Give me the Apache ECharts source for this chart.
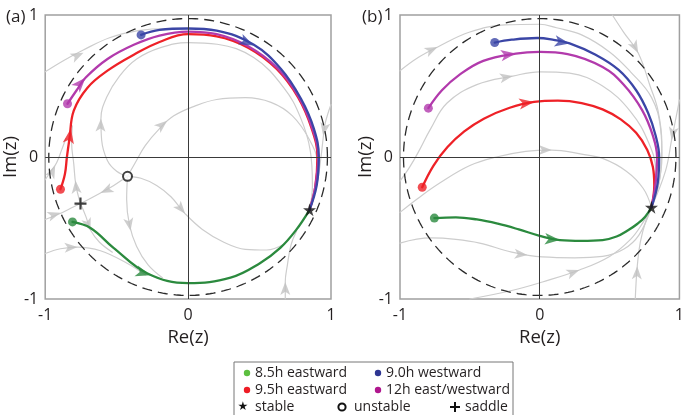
<!DOCTYPE html>
<html><head><meta charset="utf-8">
<script src="https://cdn.jsdelivr.net/npm/echarts@6/dist/echarts.min.js"></script>
<style>html,body{margin:0;padding:0;background:#fff}#c{width:687px;height:415px}</style>
</head><body><div id="c"></div>
<script>
// ---------------- data ----------------
const panelLabels = ['(a)', '(b)'];
const axisName = ['Re(z)', 'Im(z)'];
const circleRadius = 0.975;

// Panel (a) trajectories
const aBlue = [[-0.329,0.86],[-0.2,0.895],[0,0.905],[0.2,0.89],[0.46,0.79],[0.65,0.62],[0.79,0.41],[0.88,0.2],[0.915,0],[0.9,-0.2],[0.85,-0.372]];
const aPurple = [[-0.844,0.375],[-0.78,0.47],[-0.718,0.558],[-0.564,0.69],[-0.38,0.79],[-0.2,0.855],[0,0.883],[0.2,0.865],[0.42,0.78],[0.62,0.63],[0.77,0.43],[0.87,0.2],[0.91,0],[0.89,-0.21],[0.85,-0.372]];
const aRed = [[-0.893,-0.227],[-0.862,-0.12],[-0.848,0],[-0.83,0.13],[-0.8,0.326],[-0.704,0.488],[-0.564,0.608],[-0.38,0.72],[-0.2,0.81],[0,0.865],[0.2,0.85],[0.42,0.77],[0.62,0.62],[0.77,0.42],[0.865,0.2],[0.905,0],[0.89,-0.21],[0.85,-0.372]];
const aGreen = [[-0.809,-0.457],[-0.683,-0.5],[-0.522,-0.64],[-0.284,-0.82],[0,-0.888],[0.297,-0.85],[0.5,-0.75],[0.645,-0.64],[0.755,-0.515],[0.85,-0.372]];
const aGray = [
  [[-1,0.6],[-0.87,0.68],[-0.74,0.75],[-0.55,0.84],[-0.35,0.89],[-0.15,0.905],[0.05,0.905]],
  [[-0.424,-0.136],[-0.5,-0.1],[-0.564,-0.026],[-0.605,0.12],[-0.61,0.27],[-0.57,0.42],[-0.48,0.57],[-0.36,0.69],[-0.193,0.77],[0,0.806],[0.203,0.794],[0.459,0.7],[0.669,0.489],[0.786,0.279],[0.855,0.044],[0.87,-0.2],[0.85,-0.372]],
  [[-0.424,-0.136],[-0.37,-0.04],[-0.3,0.08],[-0.2,0.2],[-0.1,0.29],[0.05,0.36],[0.2,0.405],[0.4,0.418],[0.58,0.385],[0.73,0.29],[0.85,0.12],[0.905,-0.05],[0.89,-0.22],[0.85,-0.372]],
  [[-0.424,-0.136],[-0.33,-0.15],[-0.22,-0.2],[-0.12,-0.28],[-0.02,-0.4],[0.1,-0.51],[0.25,-0.6],[0.4,-0.65],[0.55,-0.655],[0.67,-0.615]],
  [[-0.424,-0.136],[-0.43,-0.3],[-0.41,-0.48],[-0.36,-0.63],[-0.28,-0.76],[-0.18,-0.85]],
  [[-0.424,-0.136],[-0.52,-0.2],[-0.613,-0.253],[-0.753,-0.328]],
  [[-0.753,-0.328],[-0.785,-0.2],[-0.8,-0.05],[-0.815,0.1],[-0.81,0.22]],
  [[-1,-0.16],[-0.96,-0.1],[-0.92,-0.04],[-0.885,0.05],[-0.855,0.13]],
  [[-1,-0.44],[-0.9,-0.4],[-0.8,-0.35],[-0.753,-0.328]],
  [[-0.753,-0.328],[-0.715,-0.42],[-0.68,-0.52],[-0.62,-0.6],[-0.53,-0.67]],
  [[-1,-0.68],[-0.893,-0.646],[-0.774,-0.634],[-0.613,-0.66],[-0.424,-0.75],[-0.3,-0.83]],
  [[0.68,-1],[0.68,-0.88],[0.695,-0.76],[0.72,-0.62],[0.76,-0.52]],
  [[1,0.37],[0.96,0.24],[0.945,0.13],[0.93,0],[0.9,-0.2],[0.85,-0.372]]
];
// arrows: [x, y, direction in degrees]
const aGrayArrows = [[-0.732,0.734,25],[-0.61,0.27,88],[-0.147,0.255,40],[-0.02,-0.4,-50],[-0.403,-0.52,-80],[-0.613,-0.253,205],[-0.788,-0.166,95],[-0.93,-0.06,65],[-0.893,-0.393,18],[-0.683,-0.52,-70],[-0.774,-0.634,3],[0.68,-0.88,90],[0.945,0.15,-100]];
const aBlueArrows = [[0.459,0.785,-25]];
const aPurpleArrows = [[-0.718,0.558,48]];
const aRedArrows = [[-0.82,0.2,80]];
const aGreenArrows = [[-0.263,-0.833,-17]];
const aStable = [[0.85,-0.372]];
const aUnstable = [[-0.424,-0.136]];
const aSaddle = [[-0.753,-0.328]];

// Panel (b) trajectories
const bBlue = [[-0.322,0.806],[-0.2,0.826],[-0.018,0.838],[0.1,0.825],[0.214,0.8],[0.4,0.72],[0.565,0.613],[0.69,0.47],[0.776,0.31],[0.83,0.15],[0.855,0],[0.845,-0.18],[0.8,-0.354]];
const bPurple = [[-0.797,0.344],[-0.7,0.47],[-0.58,0.575],[-0.404,0.677],[-0.171,0.728],[0,0.74],[0.2,0.725],[0.45,0.634],[0.6,0.51],[0.733,0.33],[0.81,0.15],[0.84,0],[0.83,-0.18],[0.8,-0.354]];
const bRed = [[-0.841,-0.213],[-0.76,-0.06],[-0.66,0.07],[-0.54,0.18],[-0.4,0.27],[-0.22,0.345],[-0.04,0.388],[0.13,0.397],[0.3,0.38],[0.45,0.335],[0.58,0.265],[0.69,0.17],[0.77,0.05],[0.81,-0.07],[0.82,-0.2],[0.8,-0.354]];
const bGreen = [[-0.754,-0.43],[-0.6,-0.425],[-0.45,-0.44],[-0.3,-0.47],[-0.15,-0.51],[0,-0.555],[0.144,-0.585],[0.3,-0.59],[0.45,-0.585],[0.55,-0.56],[0.635,-0.514],[0.7,-0.47],[0.755,-0.42],[0.8,-0.354]];
const bGray = [
  [[-1,0.607],[-0.87,0.7],[-0.73,0.775],[-0.5,0.88],[-0.25,0.93],[0,0.935],[0.12,0.91],[0.3,0.86],[0.5,0.74],[0.65,0.6],[0.8,0.42],[0.865,0.2],[0.875,0],[0.85,-0.2],[0.8,-0.354]],
  [[0.52,1],[0.6,0.88],[0.705,0.732],[0.79,0.5],[0.846,0.33],[0.874,0.1],[0.86,-0.15],[0.8,-0.354]],
  [[1,0.4],[0.97,0.25],[0.944,0.12],[0.9,-0.1],[0.8,-0.354]],
  [[-1,-0.17],[-0.93,-0.07],[-0.86,0.05],[-0.78,0.2],[-0.663,0.38],[-0.45,0.51],[-0.193,0.57],[0,0.6],[0.214,0.59],[0.45,0.5],[0.65,0.32],[0.78,0.1],[0.83,-0.1],[0.8,-0.354]],
  [[-1,-0.39],[-0.87,-0.29],[-0.71,-0.18],[-0.5,-0.06],[-0.31,0],[-0.1,0.04],[0.086,0.049],[0.3,0.02],[0.45,-0.01],[0.62,-0.1],[0.74,-0.22],[0.8,-0.354]],
  [[-1,-0.606],[-0.78,-0.57],[-0.6,-0.58],[-0.43,-0.606],[-0.2,-0.67],[0.018,-0.704],[0.25,-0.71],[0.45,-0.7],[0.6,-0.65],[0.71,-0.55],[0.8,-0.354]],
  [[-0.5,-1],[-0.2,-0.94],[0.02,-0.88],[0.284,-0.796],[0.5,-0.7],[0.65,-0.58],[0.74,-0.46],[0.8,-0.354]],
  [[0.684,-1],[0.69,-0.88],[0.698,-0.77],[0.72,-0.6],[0.76,-0.45],[0.8,-0.354]]
];
const bGrayArrows = [[-0.731,0.775,25],[0.705,0.732,-62],[0.944,0.12,-100],[-0.193,0.57,10],[0.086,0.049,0],[-0.088,-0.69,-5],[0.284,-0.796,20],[0.698,-0.77,88]];
const bBlueArrows = [[0.214,0.8,-10]];
const bPurpleArrows = [[-0.171,0.728,8]];
const bRedArrows = [[-0.04,0.388,8]];
const bGreenArrows = [[0.144,-0.585,-5]];
const bStable = [[0.8,-0.354]];

// legend entries
const legendRows = [
  [['8.5h eastward','dotGreen'],['9.0h westward','dotBlue']],
  [['9.5h eastward','dotRed'],['12h east/westward','dotPurple']],
  [['stable','star'],['unstable','ring'],['saddle','plus']]
];

// ---------------- styles ----------------
const C = {
  blue:'#3b46a6', red:'#ee2127', purple:'#b23aac', green:'#2b8a3e', gray:'#cdcdcd',
  lgGreen:'#5cbf3f', lgBlue:'#2e3592', lgRed:'#ee1c25', lgPurple:'#b0168e'
};
const FONT = 'Open Sans';
const STAR = 'path://M50,0 L61,35 L98,35 L68,57 L79,91 L50,70 L21,91 L32,57 L2,35 L39,35 Z';
const PLUS = 'path://M4.1,0H5.9V4.1H10V5.9H5.9V10H4.1V5.9H0V4.1H4.1Z';

function circlePts(r){const p=[];for(let i=0;i<=240;i++){const t=i/240*2*Math.PI;p.push([r*Math.cos(t),r*Math.sin(t)]);}return p;}

function line(data,color,width,g,z){
  return {type:'line',xAxisIndex:g,yAxisIndex:g,data,smooth:0.4,symbol:'none',
    lineStyle:{color,width,cap:'round'},z,silent:true};
}
function arrows(list,color,size,g,z){
  return {type:'scatter',xAxisIndex:g,yAxisIndex:g,symbol:'arrow',symbolSize:size,z,silent:true,
    data:list.map(a=>({value:[a[0],a[1]],symbolRotate:a[2]-90})),itemStyle:{color}};
}
function dots(list,g,color,z){
  return {type:'scatter',xAxisIndex:g,yAxisIndex:g,symbol:'circle',symbolSize:9,z,silent:true,
    data:[list[0]],itemStyle:{color}};
}
function pts(list,g,symbol,size,style,z){
  return {type:'scatter',xAxisIndex:g,yAxisIndex:g,symbol,symbolSize:size,z,silent:true,data:list,itemStyle:style};
}

function panelSeries(g, P){
  const s=[];
  s.push({type:'line',xAxisIndex:g,yAxisIndex:g,data:circlePts(circleRadius),symbol:'none',silent:true,z:2,
    lineStyle:{color:'#2a2a2a',width:1.3,type:[10,6]},
    markLine:{silent:true,symbol:'none',label:{show:false},animation:false,
      lineStyle:{color:'#3a3a3a',width:1,type:'solid'},data:[{xAxis:0},{yAxis:0}]}});
  P.gray.forEach(d=>s.push(line(d,C.gray,1.2,g,1)));
  s.push(arrows(P.grayArrows,'#c2c2c2',[7.5,13],g,1));
  s.push(line(P.green,C.green,2.3,g,3));
  s.push(line(P.red,C.red,2.3,g,3));
  s.push(line(P.purple,C.purple,2.3,g,3));
  s.push(line(P.blue,C.blue,2.3,g,3));
  s.push(arrows(P.greenA,C.green,[8.5,15],g,4));
  s.push(arrows(P.redA,C.red,[8.5,15],g,4));
  s.push(arrows(P.purpleA,C.purple,[8.5,15],g,4));
  s.push(arrows(P.blueA,C.blue,[8.5,15],g,4));
  s.push(dots(P.green,g,C.green,5));
  s.push(dots(P.red,g,C.red,5));
  s.push(dots(P.purple,g,C.purple,5));
  s.push(dots(P.blue,g,C.blue,5));
  s.push(pts(P.stable,g,STAR,13,{color:'#111'},6));
  if(P.unstable) s.push(pts(P.unstable,g,'circle',9,{color:'#fff',borderColor:'#111',borderWidth:2},6));
  if(P.saddle) s.push(pts(P.saddle,g,PLUS,12,{color:'#111'},6));
  return s;
}

const series = [].concat(
  panelSeries(0,{gray:aGray,grayArrows:aGrayArrows,green:aGreen,red:aRed,purple:aPurple,blue:aBlue,
    greenA:aGreenArrows,redA:aRedArrows,purpleA:aPurpleArrows,blueA:aBlueArrows,stable:aStable,unstable:aUnstable,saddle:aSaddle}),
  panelSeries(1,{gray:bGray,grayArrows:bGrayArrows,green:bGreen,red:bRed,purple:bPurple,blue:bBlue,
    greenA:bGreenArrows,redA:bRedArrows,purpleA:bPurpleArrows,blueA:bBlueArrows,stable:bStable})
);

const grids=[{left:45,top:15,width:286,height:284},{left:400,top:15,width:285,height:284}];
const txt={color:'#231f20',fontFamily:FONT,fontSize:16};
function xAx(g){return {type:'value',gridIndex:g,min:-1,max:1,interval:1,name:axisName[0],nameLocation:'middle',nameGap:24,
  nameTextStyle:{...txt,fontSize:18.5},axisLine:{show:false},axisTick:{show:false},splitLine:{show:false},
  axisLabel:{...txt,margin:8}};}
function yAx(g){return {type:'value',gridIndex:g,min:-1,max:1,interval:1,name:axisName[1],nameLocation:'middle',nameGap:15,nameRotate:90,
  nameTextStyle:{...txt,fontSize:18.5},axisLine:{show:false},axisTick:{show:false},splitLine:{show:false},
  axisLabel:{...txt,margin:7}};}

// legend graphic
const lg=[];
const LX=234, LY=362;
lg.push({type:'rect',shape:{x:LX,y:LY,width:279,height:62},style:{fill:'#fff',stroke:'#777',lineWidth:1}});
const rowY=[373,390,407];
const colX2=[247,378];
const colX3=[243,342,455];
const dotColor={dotGreen:C.lgGreen,dotBlue:C.lgBlue,dotRed:C.lgRed,dotPurple:C.lgPurple};
legendRows.forEach((row,ri)=>{
  row.forEach((e,ci)=>{
    const y=rowY[ri];
    let x, tx;
    if(row.length===2){x=colX2[ci];tx=x+8;
      lg.push({type:'circle',shape:{cx:x,cy:y,r:3.2},style:{fill:dotColor[e[1]]}});
    } else {
      x=colX3[ci];
      if(e[1]==='star'){tx=x+12;lg.push({type:'text',style:{text:'★',x:x,y:y,fill:'#111',font:'12px DejaVu Sans',textAlign:'center',textVerticalAlign:'middle'}});}
      if(e[1]==='ring'){tx=x+12;lg.push({type:'circle',shape:{cx:x,cy:y,r:3.6},style:{fill:'#fff',stroke:'#111',lineWidth:2}});}
      if(e[1]==='plus'){tx=x+10;lg.push({type:'rect',shape:{x:x-5,y:y-1,width:10,height:2},style:{fill:'#111'}});
        lg.push({type:'rect',shape:{x:x-1,y:y-5,width:2,height:10},style:{fill:'#111'}});}
    }
    lg.push({type:'text',style:{text:e[0],x:tx,y:y,fill:'#231f20',font:'14px "'+FONT+'"',textVerticalAlign:'middle'}});
  });
});
lg.push({type:'text',style:{text:panelLabels[0],x:6,y:17,fill:'#231f20',font:'17px "'+FONT+'"',textVerticalAlign:'middle'}});
lg.push({type:'text',style:{text:panelLabels[1],x:362,y:17,fill:'#231f20',font:'17px "'+FONT+'"',textVerticalAlign:'middle'}});

const chart=echarts.init(document.getElementById('c'),null,{renderer:'canvas'});
chart.setOption({
  animation:false,
  grid:grids.map(g=>({...g,show:true,borderColor:'#a0a0a0',borderWidth:1.5,backgroundColor:'transparent'})),
  xAxis:[xAx(0),xAx(1)],
  yAxis:[yAx(0),yAx(1)],
  series,
  graphic:lg
});
</script></body></html>
